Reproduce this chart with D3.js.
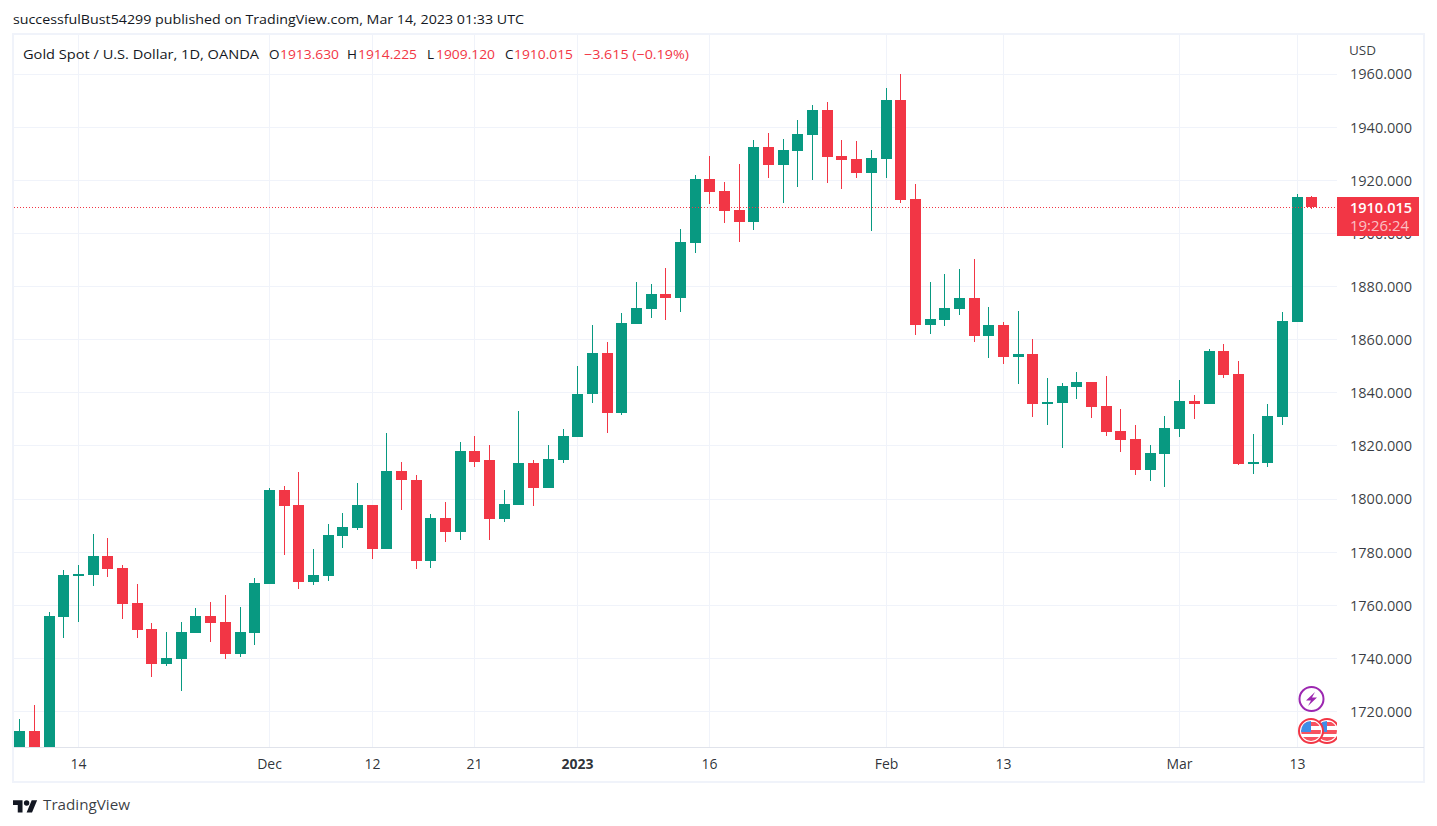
<!DOCTYPE html>
<html><head><meta charset="utf-8">
<script src="https://cdn.jsdelivr.net/npm/d3@7/dist/d3.min.js"></script>
<style>html,body{margin:0;padding:0;background:#fff;overflow:hidden}svg{display:block}text{font-family:"Open Sans",sans-serif;}</style>
</head><body><svg id="c" width="1437" height="826"></svg>
<script>
const opens=[1700,1712.6,1702,1755.5,1771,1771.4,1778.5,1774,1760.8,1751,1737.8,1739.7,1749.5,1755.9,1753.7,1741.6,1749.5,1768,1803.4,1797.7,1768.7,1771,
1785.9,1788.9,1797.6,1781,1810.7,1807.3,1776.5,1793,1787.4,1817.9,1814.5,1792.3,1797.9,1813.7,1804,1814.5,1823.5,1839.4,1854.8,1832.2,
1865.9,1871.6,1877.2,1875.7,1896.4,1920.5,1916,1908.9,1904.3,1932.6,1925.8,1931.1,1937.1,1946.5,1929.2,1928.1,1922.8,1928.1,1950.3,1913,
1865.4,1867.3,1871.4,1875.6,1861.2,1865.4,1853.3,1854.5,1835.6,1836,1842,1843.9,1834.9,1825.5,1822.4,1810.8,1816.8,1826.2,1836.8,1835.7,1855.6,1847,1813.1,1813.4,1830.8,1866.5,1913.63];
const closes=[1712.6,1700,1755.9,1771.4,1771.7,1778.5,1773.6,1760.4,1750.6,1737.8,1740.1,1749.9,1755.9,1753.3,1741.6,1749.9,1768.3,1803.4,1797.3,1768.7,1771.4,1786.4,
1789.3,1797.6,1781,1810.7,1807,1776.5,1793,1787.4,1817.9,1814.1,1792.3,1798.3,1813.7,1804,1814.9,1823.9,1839.7,1854.8,1832.2,1866.3,
1872,1877.2,1875.7,1896.8,1920.5,1915.6,1908.5,1904.3,1932.6,1925.8,1931.5,1937.5,1946.5,1928.8,1927.7,1922.8,1928.5,1950.3,1912.6,1865.4,
1867.6,1871.8,1875.6,1861.2,1865.4,1853.3,1854.5,1835.6,1836.4,1842.4,1843.9,1834.5,1825.1,1822.1,1810.8,1817.2,1826.6,1836.8,1835.7,1855.6,1846.6,1813.1,1813.8,1831.1,1866.9,1913.6,1910.015];
const highs=[1717.1,1722.4,1757.4,1773.2,1775.1,1786.8,1785.3,1775.1,1768,1753.3,1749.9,1753.7,1758.9,1761.2,1763.8,1759.3,1770.2,1804.1,1804.9,1810.1,1781.1,1790.6,
1794.9,1806.2,1797.6,1824.7,1814.1,1808.9,1794.2,1798.7,1821.3,1823.9,1820.5,1803.2,1833.3,1814.5,1820.2,1826.2,1849.9,1865.6,1859.2,1870.1,
1881.8,1881,1887,1901.7,1922.1,1929.2,1919.4,1926.2,1935.2,1937.9,1935.6,1942.8,1948.4,1949.5,1935.2,1934.9,1931.5,1954.8,1960.1,1918.7,
1881.6,1884.6,1886.5,1890.2,1872.2,1866.5,1870.7,1860.1,1845.4,1843.5,1847.7,1843.9,1846.2,1833.7,1827.7,1820.2,1831.1,1844.7,1839.1,1856.4,1858.3,1851.9,1824.4,1835.7,1870.3,1914.8,1914.225];
const lows=[1698,1696,1700,1747.6,1753.7,1767.2,1770.6,1754.8,1747.6,1732.9,1737.1,1727.7,1749.5,1746.1,1739.7,1740.5,1745,1768,1778.9,1766.1,1767.6,1769.1,
1781.4,1788.5,1777.6,1781,1795.7,1773.8,1774.2,1784,1784.7,1811.9,1784.7,1791.2,1797.9,1797.2,1804,1813.4,1823.5,1836.3,1825,1831.5,
1865.9,1868.2,1867.4,1870.5,1892.7,1911.1,1904,1896.8,1901.3,1920.9,1911.5,1917.5,1920.2,1919,1916.8,1920.9,1901,1920.9,1911.5,1861.6,
1862,1865,1869.2,1859,1853,1850.7,1843.2,1830.7,1827.7,1819.1,1837.5,1830.4,1823.6,1817.6,1808.9,1806.6,1804.7,1823.2,1830,1835.7,1845.5,1812.7,1809.3,1811.9,1827.8,1866.5,1909.12];
const priceTicks=[1720,1740,1760,1780,1800,1820,1840,1860,1880,1900,1920,1940,1960];
const timeTickIdx=[4,17,24,31,38,47,59,67,79,87];
const timeTickLabels=["14","Dec","12","21","2023","16","Feb","13","Mar","13"];
const boldLabel="2023";
const lastClose=1910.015, countdown="19:26:24";
const headerText="successfulBust54299 published on TradingView.com, Mar 14, 2023 01:33 UTC";
const symbolText="Gold Spot / U.S. Dollar, 1D, OANDA";
const ohlc=[["O","1913.630"],["H","1914.225"],["L","1909.120"],["C","1910.015"]];
const changeText="\u22123.615 (\u22120.19%)";

const GREEN="#089981",RED="#f23645",INK="#131722",GRID="#f0f3fa",EDGE="#e0e3eb";
const svg=d3.select("#c");
const x=d3.scaleLinear().domain([0,88]).range([19.3,1311.3]);
const y=d3.scaleLinear().domain([1720,1960]).range([711.5,74]);
const crisp=v=>Math.round(v);
const fit=(s,w)=>s.attr("textLength",w).attr("lengthAdjust","spacingAndGlyphs");

svg.append("rect").attr("x",13).attr("y",34).attr("width",1411).attr("height",748).attr("fill","#fff").attr("stroke",GRID).attr("stroke-width",2);
const defs=svg.append("defs");
defs.append("clipPath").attr("id","pane").append("rect").attr("x",14).attr("y",35).attr("width",1323).attr("height",712);
defs.append("clipPath").attr("id","flagclip").append("rect").attr("x",1290).attr("y",710).attr("width",47).attr("height",40);

const grid=svg.append("g").attr("stroke",GRID).attr("stroke-width",1);
grid.selectAll("line.h").data(priceTicks).join("line").attr("class","h").attr("x1",14).attr("x2",1337)
  .attr("y1",d=>Math.floor(y(d))+.5).attr("y2",d=>Math.floor(y(d))+.5);
grid.selectAll("line.v").data(timeTickIdx).join("line").attr("class","v").attr("y1",35).attr("y2",747)
  .attr("x1",d=>crisp(x(d))+.5).attr("x2",d=>crisp(x(d))+.5);

svg.append("line").attr("x1",14).attr("x2",1424).attr("y1",747.5).attr("y2",747.5).attr("stroke",EDGE);

const pane=svg.append("g").attr("clip-path","url(#pane)");
const idx=d3.range(opens.length);
const col=i=>closes[i]>=opens[i]?GREEN:RED;
pane.selectAll("rect.w").data(idx).join("rect").attr("class","w")
  .attr("x",i=>crisp(x(i))).attr("width",1)
  .attr("y",i=>crisp(y(highs[i]))).attr("height",i=>crisp(y(lows[i]))-crisp(y(highs[i])))
  .attr("fill",col);
pane.selectAll("rect.b").data(idx).join("rect").attr("class","b")
  .attr("x",i=>crisp(x(i))-5).attr("width",11)
  .attr("y",i=>crisp(y(Math.max(opens[i],closes[i]))))
  .attr("height",i=>Math.max(1,crisp(y(Math.min(opens[i],closes[i])))-crisp(y(Math.max(opens[i],closes[i])))))
  .attr("fill",col);

// last price line
svg.append("line").attr("x1",14).attr("x2",1337).attr("y1",Math.round(y(lastClose))+.5).attr("y2",Math.round(y(lastClose))+.5)
  .attr("stroke",RED).attr("stroke-dasharray","1 2");

// price axis
const axisG=svg.append("g").attr("transform","translate(1350,0)");
const yAxis=d3.axisRight(y).tickValues(priceTicks).tickSize(0).tickPadding(0).tickFormat(d3.format(".3f"));
axisG.call(yAxis);
axisG.select(".domain").remove();
axisG.selectAll("text").attr("fill",INK).attr("font-size",14).attr("font-family","'Open Sans', sans-serif").attr("dy",".35em").attr("fill-opacity",.85)
  .attr("textLength",62).attr("lengthAdjust","spacingAndGlyphs");
svg.append("text").attr("x",1349).attr("y",55).attr("font-size",13.5).attr("fill",INK).attr("fill-opacity",.85).text("USD");

// time axis
const xAxisG=svg.append("g").attr("transform","translate(0,747)");
xAxisG.selectAll("text").data(timeTickIdx).join("text")
  .attr("x",d=>crisp(x(d))+.5).attr("y",22).attr("text-anchor","middle").attr("font-size",14)
  .attr("fill",INK).attr("fill-opacity",.9)
  .attr("font-weight",(d,i)=>timeTickLabels[i]===boldLabel?700:400)
  .text((d,i)=>timeTickLabels[i]);

// price label
svg.append("rect").attr("x",1337).attr("y",197).attr("width",82).attr("height",39).attr("fill",RED);
fit(svg.append("text").attr("x",1350).attr("y",213).attr("fill","#fff").attr("font-size",14).attr("font-weight",600).text(d3.format(".3f")(lastClose)),62);
fit(svg.append("text").attr("x",1350).attr("y",231).attr("fill","#fff").attr("fill-opacity",.7).attr("font-size",14).text(countdown),59);

// header
fit(svg.append("text").attr("x",13).attr("y",24).attr("font-size",13.5).attr("fill",INK).text(headerText),511);
fit(svg.append("text").attr("x",23).attr("y",59).attr("font-size",13.5).attr("fill",INK).text(symbolText),236);
const lx=[269,347,427,505], vx=[280,358,436,514];
ohlc.forEach((d,i)=>{
  svg.append("text").attr("x",lx[i]).attr("y",59).attr("font-size",13.5).attr("fill",INK).text(d[0]);
  fit(svg.append("text").attr("x",vx[i]).attr("y",59).attr("font-size",13.5).attr("fill",RED).text(d[1]),59);
});
fit(svg.append("text").attr("x",584).attr("y",59).attr("font-size",13.5).attr("fill",RED).text(changeText),105);

// event marks
const ev=svg.append("g");
ev.append("circle").attr("cx",1311.5).attr("cy",699).attr("r",12).attr("fill","#fff").attr("stroke","#9c27b0").attr("stroke-width",2);
ev.append("path").attr("d","M1315 692 L1306 700.5 L1311 700.5 L1308 706 L1317 697.5 L1312 697.5 Z").attr("fill","#9c27b0");
const flags=svg.append("g").attr("clip-path","url(#flagclip)");
function flag(cx){
  const id="f"+cx;
  defs.append("clipPath").attr("id",id).append("circle").attr("cx",cx).attr("cy",731).attr("r",10);
  flags.append("circle").attr("cx",cx).attr("cy",731).attr("r",12).attr("fill","#fff").attr("stroke",RED).attr("stroke-width",2);
  const g=flags.append("g").attr("clip-path",`url(#${id})`);
  g.append("rect").attr("x",cx-10).attr("y",721).attr("width",20).attr("height",20).attr("fill","#fff");
  [722,730,737].forEach(t=>g.append("rect").attr("x",cx-10).attr("y",t).attr("width",20).attr("height",4).attr("fill","#f7525f"));
  g.append("rect").attr("x",cx-10).attr("y",721).attr("width",10).attr("height",11).attr("fill","#3f8ee8");
}
flag(1327);flag(1311);

// logo
const logo=svg.append("g").attr("transform","translate(13,797.5) scale(.68)").attr("fill",INK);
logo.append("path").attr("d","M14 22H7V11H0V4h14v18zM28 22h-8l7.5-18h8L28 22z");
logo.append("circle").attr("cx",20).attr("cy",8).attr("r",4);
fit(svg.append("text").attr("x",43).attr("y",810).attr("font-size",15).attr("fill",INK).attr("fill-opacity",.85).text("TradingView"),87);
</script></body></html>
